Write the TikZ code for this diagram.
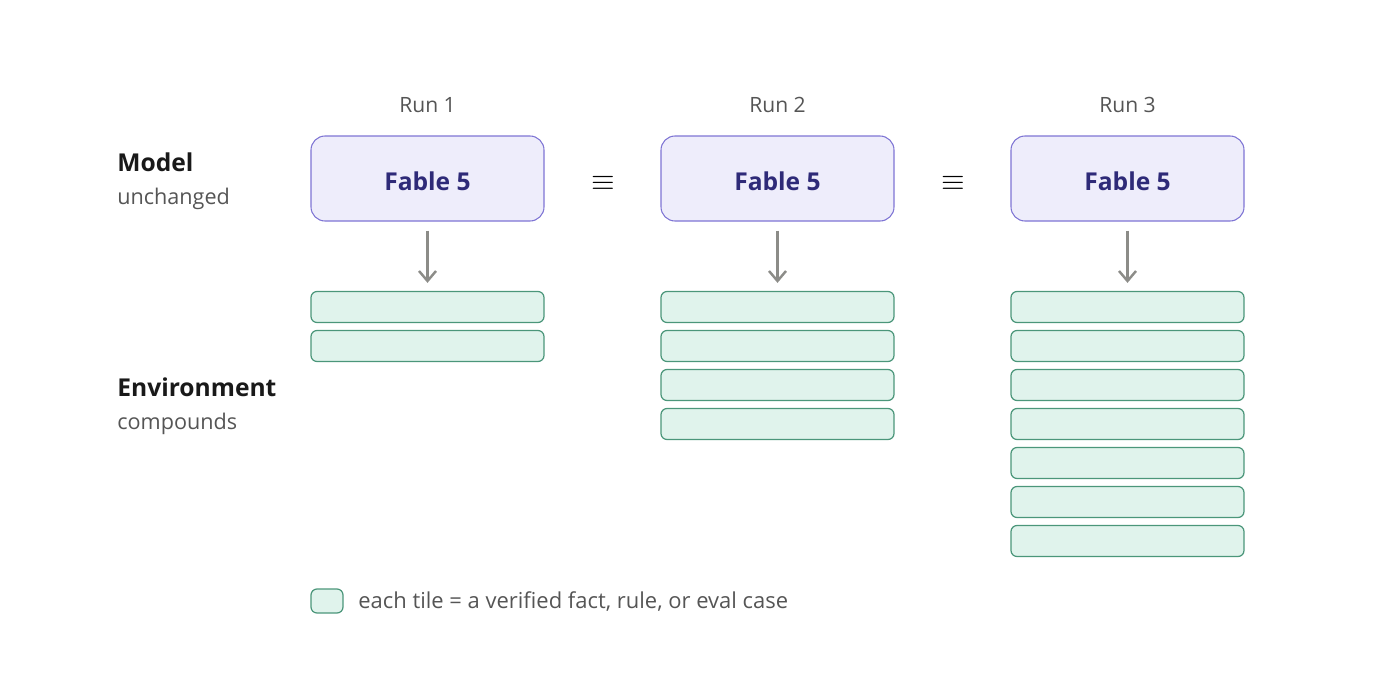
\documentclass[tikz,border=0pt]{standalone}
\usepackage{fontspec}
\setmainfont{Open Sans}
\usetikzlibrary{arrows.meta}
\definecolor{modelfill}{HTML}{EEEDFB}
\definecolor{modeldraw}{HTML}{7E74D4}
\definecolor{modeltext}{HTML}{2E2A78}
\definecolor{tilefill}{HTML}{E0F3EC}
\definecolor{tiledraw}{HTML}{4B967A}
\definecolor{arrowgray}{HTML}{8C8C88}
\definecolor{labelgray}{HTML}{555555}

\begin{document}
\begin{tikzpicture}
            \tikzstyle{model} = [rectangle, rounded corners=0.28cm, minimum width=4.66cm, minimum height=1.7cm, fill=modelfill, draw=modeldraw, line width=0.6pt, text=modeltext, font=\fontsize{14}{16}\selectfont\bfseries]
            \tikzstyle{tile} = [rectangle, rounded corners=0.12cm, minimum width=4.66cm, minimum height=0.62cm, fill=tilefill, draw=tiledraw, line width=0.7pt]
            \tikzstyle{runlabel} = [text=labelgray, font=\fontsize{12}{14}\selectfont]
            \tikzstyle{rowtitle} = [anchor=west, inner sep=0pt, text=black!90, font=\fontsize{14}{16}\selectfont\bfseries]
            \tikzstyle{rownote} = [anchor=west, inner sep=0pt, text=labelgray, font=\fontsize{12.3}{14}\selectfont]
            \tikzstyle{same} = [font=\fontsize{17}{18}\selectfont]
            \tikzstyle{feed} = [-{Straight Barb[length=2mm, width=3.4mm, line width=1.4pt]}, line width=1.4pt, draw=arrowgray, shorten <=0.18cm, shorten >=0.16cm]
            \useasboundingbox (0, 0) rectangle (28, -14);
            % row titles
            \node[rowtitle] (model-title) at (2.34, -3.25) {Model};
            \node[rownote] (model-note) at (2.34, -3.98) {unchanged};
            \node[rowtitle] (env-title) at (2.34, -7.75) {Environment};
            \node[rownote] (env-note) at (2.34, -8.48) {compounds};
            % runs
            \node[runlabel] (run1) at (8.55, -2.10) {Run 1};
            \node[runlabel] (run2) at (15.55, -2.10) {Run 2};
            \node[runlabel] (run3) at (22.55, -2.10) {Run 3};
            \node[model] (model1) at (8.55, -3.57) {\raisebox{-1.7pt}[\height][0pt]{Fable 5}};
            \node[model] (model2) at (15.55, -3.57) {\raisebox{-1.7pt}[\height][0pt]{Fable 5}};
            \node[model] (model3) at (22.55, -3.57) {\raisebox{-1.7pt}[\height][0pt]{Fable 5}};
            \node[same] (eq12) at (12.06, -3.66) {$\equiv$};
            \node[same] (eq23) at (19.06, -3.66) {$\equiv$};
            % tiles
            \node[tile] (t1a) at (8.55, -6.14) {};
            \node[tile] (t1b) at (8.55, -6.92) {};
            \node[tile] (t2a) at (15.55, -6.14) {};
            \node[tile] (t2b) at (15.55, -6.92) {};
            \node[tile] (t2c) at (15.55, -7.70) {};
            \node[tile] (t2d) at (15.55, -8.48) {};
            \node[tile] (t3a) at (22.55, -6.14) {};
            \node[tile] (t3b) at (22.55, -6.92) {};
            \node[tile] (t3c) at (22.55, -7.70) {};
            \node[tile] (t3d) at (22.55, -8.48) {};
            \node[tile] (t3e) at (22.55, -9.26) {};
            \node[tile] (t3f) at (22.55, -10.04) {};
            \node[tile] (t3g) at (22.55, -10.82) {};
            \draw[feed] (model1) -- (t1a);
            \draw[feed] (model2) -- (t2a);
            \draw[feed] (model3) -- (t3a);
            % legend
            \node[tile, minimum width=0.64cm, minimum height=0.48cm] (key) at (6.54, -12.02) {};
            \node[rownote, font=\fontsize{12.5}{14}\selectfont] (key-text) at (7.16, -12.04) {each tile = a verified fact, rule, or eval case};
        \end{tikzpicture}
\end{document}
